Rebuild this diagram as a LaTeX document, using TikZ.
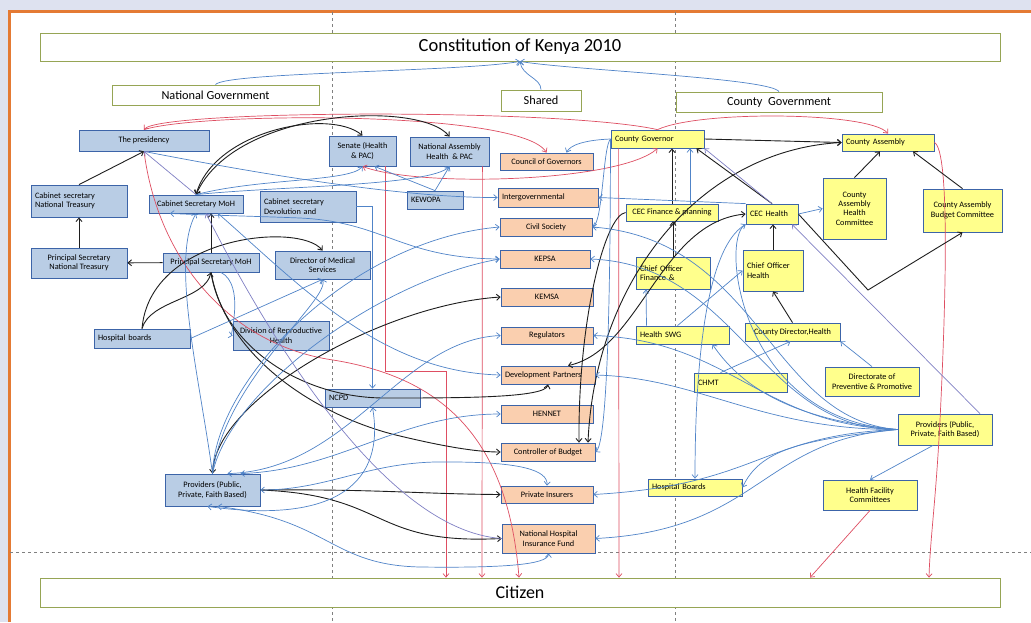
\documentclass[tikz,border=0pt]{standalone}
\usepackage{fontspec}
\setmainfont{Carlito}
\usetikzlibrary{arrows.meta}

\definecolor{bglilac}{RGB}{222,226,240}
\definecolor{frameorange}{RGB}{228,122,52}
\definecolor{olivebox}{RGB}{150,165,85}
\definecolor{natfill}{RGB}{185,205,229}
\definecolor{sharefill}{RGB}{250,207,175}
\definecolor{cntyfill}{RGB}{255,255,140}
\definecolor{boxline}{RGB}{60,100,168}
\definecolor{lnblue}{RGB}{80,132,200}
\definecolor{lnpurple}{RGB}{128,128,196}
\definecolor{lnred}{RGB}{222,78,98}
\definecolor{lnblack}{RGB}{30,30,30}

\begin{document}
\begin{tikzpicture}[
  x=1pt, y=-1pt,
  >={Straight Barb[length=3.5pt,width=6pt]},
  every node/.style={font=\fontsize{8.3}{9.4}\selectfont, inner sep=2pt},
  sz/.style 2 args={minimum width=#1pt, minimum height=#2pt},
  lw/.style={text width=#1pt, align=left, inner xsep=4pt},
  bigbox/.style={draw=olivebox, fill=white, line width=0.8pt},
  natbox/.style={draw=boxline, fill=natfill, line width=0.8pt, align=center},
  sharebox/.style={draw=boxline, fill=sharefill, line width=0.8pt, align=center},
  cntybox/.style={draw=boxline, fill=cntyfill, line width=0.8pt, align=center},
  blkln/.style={draw=lnblack, line width=0.9pt, ->},
  bluln/.style={draw=lnblue, line width=0.7pt, ->},
  purln/.style={draw=lnpurple, line width=0.7pt, ->},
  redln/.style={draw=lnred, line width=0.7pt, ->}
]
  \useasboundingbox (0,0) rectangle (1031,622);
  \fill[bglilac] (0,0) rectangle (1031,622);
  \fill[white] (9,11) rectangle (1031,622);
  \draw[frameorange, line width=3pt] (9,622) -- (9,11) -- (1031,11);
  \draw[gray, dashed, line width=0.5pt] (332,12) -- (332,622) (675,12) -- (675,622) (10,552) -- (1031,552);

  % frame boxes
  \node[bigbox, sz={960}{28}, font=\fontsize{18.5}{20}\selectfont] (constitution) at (520,47) {Constitution of Kenya 2010};
  \node[bigbox, sz={207}{20}, font=\fontsize{12.3}{14}\selectfont] (natgov) at (215.5,95) {National Government};
  \node[bigbox, sz={80}{21}, font=\fontsize{12.3}{14}\selectfont] (shared) at (541,100.5) {Shared};
  \node[bigbox, sz={206}{20}, font=\fontsize{12.3}{14}\selectfont] (cntygov) at (779,102) {County\ \ Government};
  \node[bigbox, sz={960}{29}, font=\fontsize{18}{20}\selectfont] (citizen) at (520,592.5) {Citizen};

  % national government
  \node[natbox, sz={130}{21}] (presidency) at (144,140.5) {The presidency};
  \node[natbox, sz={67}{30}] (senate) at (362.5,151) {Senate (Health\\\& PAC)};
  \node[natbox, sz={79}{29}] (natassembly) at (449.5,151.5) {National Assembly\\Health\ \ \& PAC};
  \node[natbox, lw=88, minimum height=32pt] (cstreasury) at (79,201) {Cabinet secretary\\National Treasury};
  \node[natbox, sz={94}{18}] (csmoh) at (196,204) {Cabinet Secretary MoH};
  \node[natbox, lw=88, minimum height=31pt] (csdevolution) at (308,206.5) {Cabinet secretary\\Devolution and};
  \node[natbox, lw=48, minimum height=18pt] (kewopa) at (435,200) {KEWOPA};
  \node[natbox, sz={96}{30}] (pstreasury) at (79,263) {Principal Secretary\\National Treasury};
  \node[natbox, sz={96}{19}] (psmoh) at (211,262.5) {Principal Secretary MoH};
  \node[natbox, sz={95}{28}] (dms) at (322.5,265) {Director of Medical\\Services};
  \node[natbox, lw=88, minimum height=19pt] (hospboards) at (142,338.5) {Hospital boards};
  \node[natbox, sz={96}{29}] (drh) at (281,335.5) {Division of Reproductive\\Health};
  \node[natbox, lw=87, minimum height=18pt] (ncpd) at (372.5,398) {NCPD};
  \node[natbox, sz={95}{32}] (providersnat) at (212.5,490) {Providers (Public,\\Private, Faith Based)};

  % shared
  \node[sharebox, sz={93}{17}] (cog) at (546.5,161.5) {Council of Governors};
  \node[sharebox, lw=92, minimum height=19pt] (intergov) at (548,197.5) {Intergovernmental};
  \node[sharebox, sz={92}{18}] (civil) at (546,227) {Civil Society};
  \node[sharebox, sz={90}{18}] (kepsa) at (545,259) {KEPSA};
  \node[sharebox, sz={92}{18}] (kemsa) at (547,297) {KEMSA};
  \node[sharebox, sz={92}{17}] (regulators) at (547,335.5) {Regulators};
  \node[sharebox, lw=86, minimum height=18pt] (devpartners) at (548,375) {Development Partners};
  \node[sharebox, sz={92}{18}] (hennet) at (547,414) {HENNET};
  \node[sharebox, sz={94}{18}] (cob) at (548,452) {Controller of Budget};
  \node[sharebox, sz={92}{17}] (privinsurers) at (547,494.5) {Private Insurers};
  \node[sharebox, sz={93}{29}] (nhif) at (548.5,538.5) {National Hospital\\Insurance Fund};

  % county government
  \node[cntybox, lw=85, minimum height=18pt] (cgovernor) at (657.5,139) {County Governor};
  \node[cntybox, lw=84, minimum height=17pt] (cassembly) at (888,142.5) {County Assembly};
  \node[cntybox, sz={92}{17}] (cecfinance) at (672,212.5) {CEC Finance \& planning};
  \node[cntybox, lw=44, minimum height=20pt] (cechealth) at (772,214) {CEC Health};
  \node[cntybox, sz={63}{61}] (cahc) at (854.5,208.5) {County\\Assembly\\Health\\Committee};
  \node[cntybox, sz={79}{43}] (cabc) at (962.5,210.5) {County Assembly\\Budget Committee};
  \node[cntybox, lw=66, minimum height=32pt] (cofinance) at (673,273) {Chief Officer\\Finance \&};
  \node[cntybox, lw=52, minimum height=41pt] (cohealth) at (773,270.5) {Chief Officer\\Health\\[10pt]};
  \node[cntybox, lw=85, minimum height=18pt] (swg) at (682.5,335) {Health SWG};
  \node[cntybox, sz={95}{18}] (cdhealth) at (792.5,332) {County Director,Health};
  \node[cntybox, lw=85, minimum height=19pt] (chmt) at (740.5,382.5) {CHMT};
  \node[cntybox, sz={94}{29}] (dpp) at (872,381.5) {Directorate of\\Preventive \& Promotive};
  \node[cntybox, sz={94}{31}] (providerscnty) at (945,429.5) {Providers (Public,\\Private, Faith Based)};
  \node[cntybox, lw=86, minimum height=17pt] (hboards) at (695,487.5) {Hospital Boards};
  \node[cntybox, sz={94}{30}] (hfc) at (870,495) {Health Facility\\Committees};

  % links to the constitution
  \draw[bluln] (natgov.north) .. controls (225,72) and (460,72) .. (constitution.south);
  \draw[bluln] (shared.north) .. controls (541,78) and (522,76) .. (constitution.south);
  \draw[bluln] (cntygov.north) .. controls (770,78) and (570,70) .. (constitution.south);

  % red: accountability to the citizen
  \draw[redln] (cgovernor.north) .. controls (560,108) and (160,110) .. (presidency.north);
  \draw[redln] (presidency.north) .. controls (200,112) and (520,110) .. (cog.north);
  \draw[redln] (cgovernor.north) .. controls (700,110) and (870,112) .. (cassembly.north);
  \draw[redln, <->] (senate.south) .. controls (420,188) and (620,182) .. (cgovernor.south);
  \draw[redln] ([xshift=-11pt]senate.south east) |- (446,371) -- (446,0 |- citizen.north);
  \draw[redln] ([xshift=-7pt]natassembly.south east) -- (482,0 |- citizen.north);
  \draw[redln] (presidency.south) .. controls (158,260) and (230,345) .. (333,360) .. controls (445,378) and (508,440) .. (519,0 |- citizen.north);
  \draw[redln] ([xshift=8pt]cgovernor.south west) -- (619,0 |- citizen.north);
  \draw[redln] (cassembly.east) .. controls (950,150) and (946,300) .. (940,420) .. controls (936,500) and (930,540) .. (929,0 |- citizen.north);
  \draw[redln] (hfc.south) -- (810,0 |- citizen.north);

  % black: national chain
  \draw[blkln] (cstreasury.north) -- (presidency.south);
  \draw[blkln] (pstreasury) -- (cstreasury);
  \draw[blkln] (psmoh) -- (pstreasury);
  \draw[blkln] (psmoh.north) -- (psmoh.north |- csmoh.south);
  \draw[blkln, <->] (csmoh.north) .. controls (215,130) and (330,108) .. (senate.north);
  \draw[blkln, <->] (csmoh.north) .. controls (235,108) and (420,100) .. (natassembly.north);
  \draw[blkln] (hospboards.north) .. controls (150,235) and (300,222) .. (dms.north);
  \draw[blkln] (hospboards.north) .. controls (150,300) and (205,300) .. (psmoh.south);
  \draw[blkln] (psmoh.south) .. controls (222,345) and (300,398) .. (385,398) .. controls (460,398) and (545,398) .. (devpartners.south);
  \draw[blkln] (psmoh.south) .. controls (228,365) and (330,420) .. (400,436) .. controls (450,448) and (480,452) .. (cob.west);
  \draw[blkln, <->] (providersnat.north) .. controls (215,400) and (380,305) .. (kemsa.west);
  \draw[blkln] (providersnat.east) .. controls (380,489) and (420,494) .. (privinsurers.west);
  \draw[blkln] (providersnat.east) .. controls (390,495) and (370,545) .. (nhif.west);

  % black: county chain
  \draw[blkln] (cgovernor.east) -- (cassembly.west);
  \draw[blkln] (cecfinance.north) -- (cecfinance.north |- cgovernor.south);
  \draw[blkln] (cofinance.north) -- (cofinance.north |- cecfinance.south);
  \draw[blkln] (cechealth.north) -- ([xshift=-8pt]cgovernor.south east);
  \draw[blkln] (cohealth.north) -- (cohealth.north |- cechealth.south);
  \draw[blkln] (cdhealth.north) -- (cohealth.south);
  \draw[blkln] (cahc.north) -- ([xshift=-8pt]cassembly.south);
  \draw[blkln] (cabc.north) -- ([xshift=25pt]cassembly.south);
  \draw[blkln] (cechealth.east) -- (868,290) -- (cabc.south);
  \draw[blkln, <->] ([xshift=20pt]devpartners.north) .. controls (640,350) and (660,222) .. (cechealth.west);
  \draw[blkln] (cecfinance.west) .. controls (605,215) and (578,320) .. ([xshift=31pt]cob.north);
  \draw[blkln, <->] ([xshift=40pt]cob.north) .. controls (595,280) and (700,150) .. (cassembly.west);

  % blue: national side
  \draw[bluln] (presidency.south) .. controls (250,172) and (400,198) .. (intergov.west);
  \draw[purln] (csmoh.north) -- (presidency.south);
  \draw[bluln] (csmoh.north) .. controls (260,178) and (350,182) .. (senate.south);
  \draw[bluln] (csmoh.north) .. controls (280,186) and (430,186) .. (natassembly.south);
  \draw[bluln] (kewopa.north) -- ([xshift=12pt]senate.south);
  \draw[bluln] (kewopa.north) -- (natassembly.south);
  \draw[bluln, <->] (kepsa.west) .. controls (400,258) and (385,222) .. (300,218) .. controls (250,216) and (200,215) .. ([xshift=-26pt]csmoh.south);
  \draw[bluln, <->] ([xshift=22pt]csmoh.south) .. controls (300,285) and (380,372) .. (devpartners.west);
  \draw[bluln] (csdevolution.east) -| (ncpd.north);
  \draw[bluln] (hospboards.east) -- (dms.south);
  \draw[bluln] ([xshift=10pt]psmoh.south) .. controls (245,285) and (230,335) .. (drh.west);
  \draw[bluln] (providersnat.north) .. controls (225,380) and (330,300) .. (dms.south);
  \draw[bluln] (providersnat.north) .. controls (215,380) and (350,240) .. (civil.west);
  \draw[bluln] (providersnat.north) .. controls (230,390) and (380,280) .. (kepsa.west);
  \draw[bluln] (providersnat.north) .. controls (200,380) and (170,260) .. (csmoh.south);
  \draw[bluln, <->] ([xshift=15pt]providersnat.north) .. controls (350,470) and (400,340) .. (regulators.west);
  \draw[bluln, <->] ([xshift=28pt]providersnat.north) .. controls (340,470) and (400,414) .. (hennet.west);
  \draw[bluln, <->] ([xshift=-5pt]providersnat.south) .. controls (340,525) and (385,480) .. (ncpd.south);
  \draw[bluln, <->] ([xshift=5pt]providersnat.south) .. controls (330,520) and (330,565) .. (420,567) .. controls (500,568) and (548,565) .. (nhif.south);
  \draw[bluln, <->] (providersnat.east) .. controls (330,490) and (370,460) .. (450,462) .. controls (520,462) and (548,470) .. (privinsurers.north);
  \draw[purln] (nhif.west) .. controls (380,530) and (260,320) .. ([xshift=10pt]csmoh.south);

  % blue: county side
  \draw[bluln] (cgovernor.west) .. controls (585,140) and (570,145) .. ([xshift=20pt]cog.north);
  \draw[bluln] (cgovernor.west) .. controls (603,145) and (603,222) .. (civil.east);
  \draw[bluln] (cgovernor.west) .. controls (610,150) and (612,440) .. (cob.east);
  \draw[bluln] (cechealth.north west) -- (intergov.east);
  \draw[bluln] ([xshift=18pt]cecfinance.north) -- ([xshift=18pt]cecfinance.north |- cgovernor.south);
  \draw[purln] (cechealth.north) -- (cgovernor.south east);
  \draw[bluln] (cechealth.east) -- (cahc.west);
  \draw[purln] ([xshift=35pt]providerscnty.north) -- ([xshift=20pt]cechealth.south);
  \draw[bluln] (providerscnty.west) .. controls (790,420) and (740,385) .. ([xshift=30pt]swg.south);
  \draw[bluln] (providerscnty.west) .. controls (770,420) and (760,240) .. (civil.east);
  \draw[bluln] (providerscnty.west) .. controls (760,430) and (740,265) .. (kepsa.east);
  \draw[bluln] (providerscnty.west) .. controls (760,425) and (730,340) .. (regulators.east);
  \draw[bluln] (providerscnty.west) .. controls (760,430) and (700,378) .. (devpartners.east);
  \draw[bluln] (providerscnty.west) .. controls (800,440) and (760,450) .. (hboards.east);
  \draw[bluln] (providerscnty.west) .. controls (760,435) and (760,485) .. (privinsurers.east);
  \draw[bluln] (providerscnty.west) .. controls (760,440) and (760,530) .. (nhif.east);
  \draw[bluln] (providerscnty.west) .. controls (740,420) and (720,240) .. (cechealth.south west);
  \draw[bluln] ([xshift=-36pt]swg.north) -- ([xshift=-27pt]cofinance.south);
  \draw[bluln] ([xshift=-5pt]swg.north) -- (cohealth.west);
  \draw[bluln] ([xshift=-20pt]chmt.north) -- ([xshift=-2pt]cdhealth.south);
  \draw[bluln] (dpp.north) -- (cdhealth.south east);
  \draw[bluln] ([xshift=-12pt]providerscnty.south) -- (hfc.north);
  \draw[bluln] (cechealth.south west) .. controls (700,250) and (695,400) .. (hboards.north);
\end{tikzpicture}
\end{document}
